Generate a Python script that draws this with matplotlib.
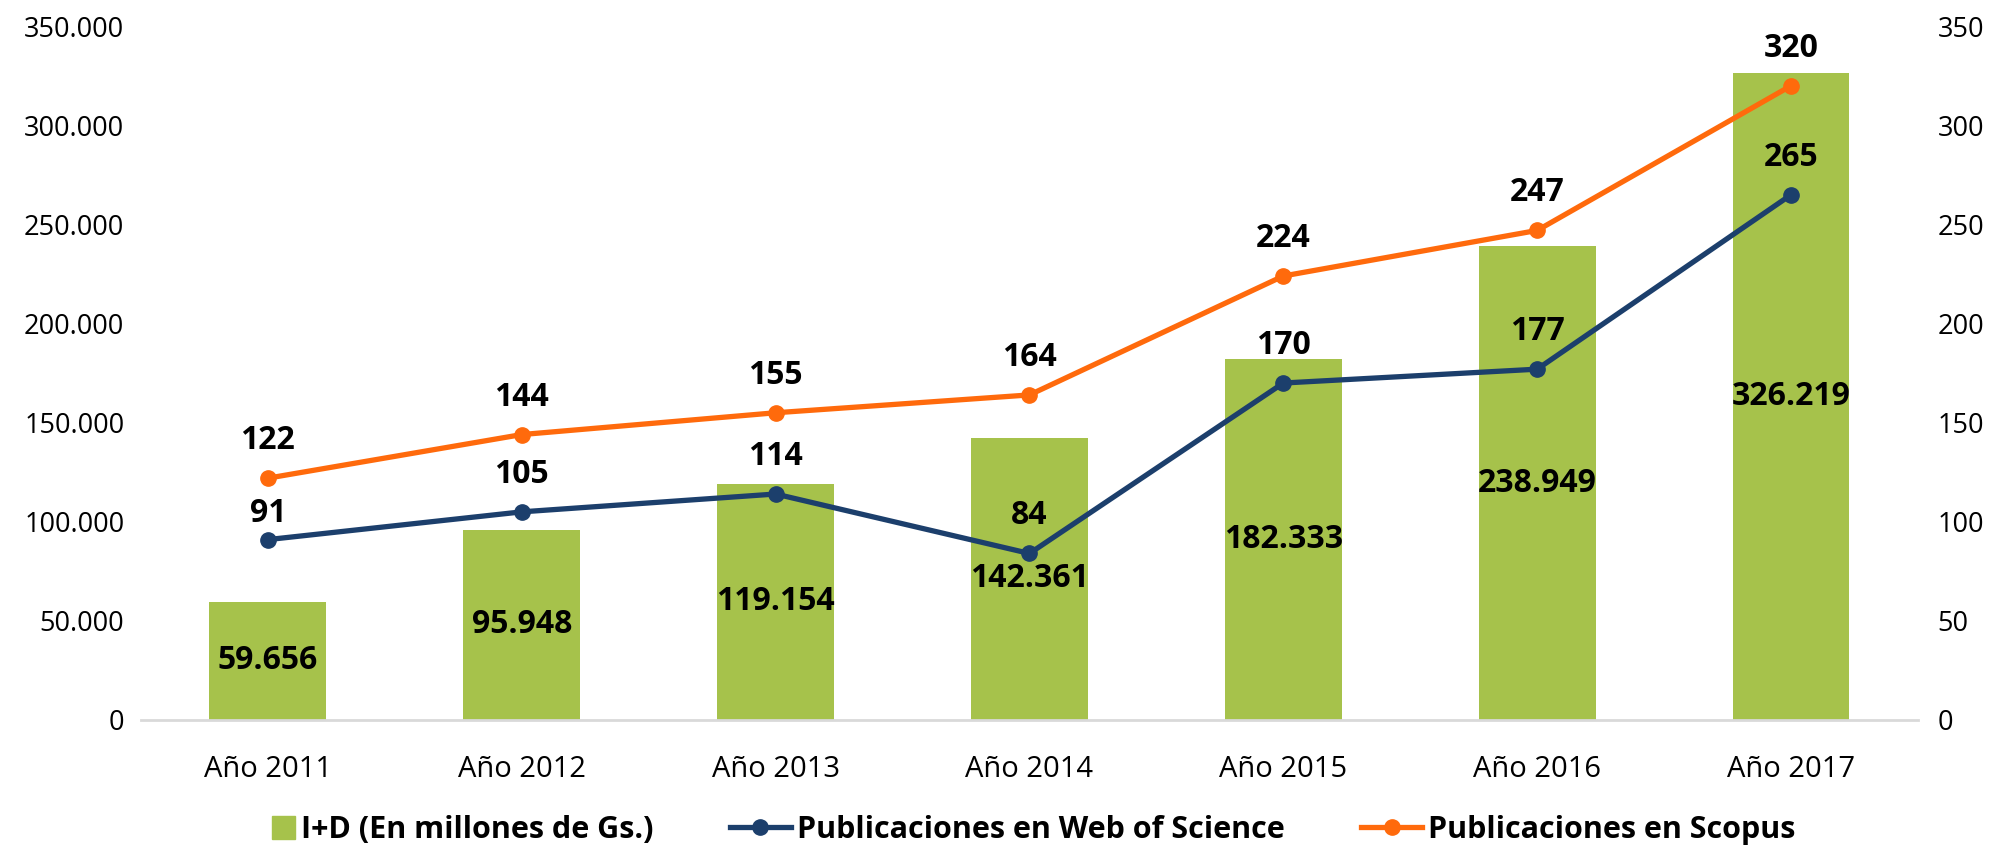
import matplotlib.pyplot as plt
from matplotlib.ticker import FuncFormatter
from matplotlib.patches import Rectangle, Patch
from matplotlib.legend_handler import HandlerPatch

plt.rcParams['font.family'] = ['Open Sans', 'DejaVu Sans']

years = ['Año 2011', 'Año 2012', 'Año 2013', 'Año 2014', 'Año 2015', 'Año 2016', 'Año 2017']
i_d = [59656, 95948, 119154, 142361, 182333, 238949, 326219]
wos = [91, 105, 114, 84, 170, 177, 265]
scopus = [122, 144, 155, 164, 224, 247, 320]

green = '#A6C24B'
navy = '#1C3F6C'
orange = '#FF6A0C'

def miles(v):
    return f'{int(v):,}'.replace(',', '.')

def square(legend, orig_handle, xdescent, ydescent, width, height, fontsize):
    s = height * 1.05
    return Rectangle((-xdescent + width - s, -ydescent + (height - s) / 2), s, s)

fig = plt.figure(figsize=(20.05, 8.48), dpi=100)
ax = fig.add_axes([0.0703, 0.151, 0.8863, 0.818])
ax2 = ax.twinx()

x = list(range(len(years)))
ax.bar(x, i_d, width=0.46, color=green, zorder=1)
for xi, v in zip(x, i_d):
    ax.text(xi, v / 2, miles(v), ha='center', va='center', fontsize=23, fontweight='bold')

ax.set_ylim(0, 350000)
ax.set_yticks(range(0, 350001, 50000))
ax.yaxis.set_major_formatter(FuncFormatter(lambda v, p: miles(v)))
ax.set_xlim(-0.5, len(years) - 0.5)
ax.set_xticks(x)
ax.set_xticklabels(years)
ax.tick_params(axis='y', length=0, labelsize=19.5, pad=12)
ax.tick_params(axis='x', length=0, labelsize=21, pad=25)
for s in ['top', 'right', 'left']:
    ax.spines[s].set_visible(False)
ax.spines['bottom'].set_color('#D9D9D9')
ax.spines['bottom'].set_linewidth(2)

l1, = ax2.plot(x, wos, color=navy, lw=3.8, marker='o', ms=11, label='Publicaciones en Web of Science', zorder=3)
l2, = ax2.plot(x, scopus, color=orange, lw=3.8, marker='o', ms=11, label='Publicaciones en Scopus', zorder=3)
for i, (xi, v) in enumerate(zip(x, wos)):
    off = 19 if i == 0 else 27
    ax2.annotate(str(v), (xi, v), xytext=(0, off), textcoords='offset points',
                 ha='center', va='center', fontsize=23, fontweight='bold')
for xi, v in zip(x, scopus):
    ax2.annotate(str(v), (xi, v), xytext=(0, 27), textcoords='offset points',
                 ha='center', va='center', fontsize=23, fontweight='bold')

ax2.set_ylim(0, 350)
ax2.set_yticks(range(0, 351, 50))
ax2.tick_params(axis='y', length=0, labelsize=19.5, pad=14)
for s in ax2.spines.values():
    s.set_visible(False)

bar_handle = Patch(color=green, label='I+D (En millones de Gs.)')
fig.legend(handles=[bar_handle, l1, l2], loc='center', bbox_to_anchor=(0.506, 0.021), ncol=3,
           frameon=False, prop={'size': 22, 'weight': 'bold'}, columnspacing=2.5,
           handlelength=2.0, handletextpad=0.2,
           handler_map={bar_handle: HandlerPatch(patch_func=square)})

fig.savefig('out.png', dpi=100)
